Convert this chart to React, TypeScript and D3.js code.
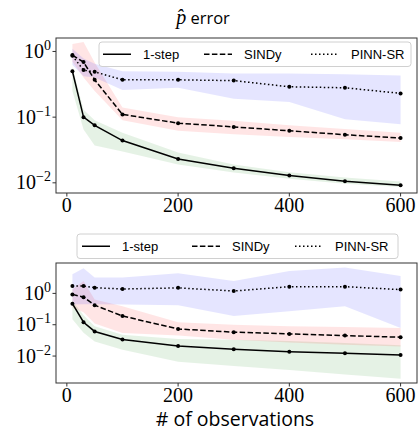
import React from 'react';
import * as d3 from 'd3';

// number of observations
const xs = [10, 30, 50, 100, 200, 300, 400, 500, 600];
const xTicks = [0, 200, 400, 600];
const yTicks = [1e-2, 1e-1, 1e0];
const yTickExp = ['\u22122', '\u22121', '0'];
const seriesNames = ['1-step', 'SINDy', 'PINN-SR'];

// top panel (p-hat error)
const topOneStep = [0.5, 0.1, 0.075, 0.044, 0.023, 0.0166, 0.0129, 0.0106, 0.0092];
const topOneStepHi = [0.58, 0.13, 0.09, 0.058, 0.029, 0.019, 0.0145, 0.012, 0.0105];
const topOneStepLo = [0.25, 0.065, 0.037, 0.03, 0.019, 0.0143, 0.0115, 0.0097, 0.0086];
const topSindy = [0.88, 0.69, 0.37, 0.11, 0.081, 0.071, 0.062, 0.054, 0.048];
const topSindyHi = [1.3, 1.39, 0.68, 0.14, 0.1, 0.088, 0.075, 0.066, 0.058];
const topSindyLo = [0.7, 0.4, 0.25, 0.09, 0.062, 0.055, 0.05, 0.046, 0.042];
const topPinn = [0.86, 0.52, 0.49, 0.37, 0.37, 0.36, 0.29, 0.28, 0.23];
const topPinnHi = [1.1, 0.78, 0.65, 0.5, 0.49, 0.46, 0.46, 0.45, 0.43];
const topPinnLo = [0.62, 0.42, 0.4, 0.26, 0.28, 0.19, 0.17, 0.093, 0.078];

// bottom panel
const botOneStep = [0.47, 0.12, 0.061, 0.034, 0.021, 0.0165, 0.0138, 0.0122, 0.0108];
const botOneStepHi = [0.58, 0.2, 0.089, 0.048, 0.035, 0.033, 0.03, 0.026, 0.022];
const botOneStepLo = [0.15, 0.055, 0.029, 0.016, 0.0066, 0.0048, 0.0036, 0.0026, 0.0019];
const botSindy = [0.93, 0.76, 0.42, 0.19, 0.073, 0.058, 0.051, 0.045, 0.04];
const botSindyHi = [1.35, 2.5, 0.64, 0.39, 0.12, 0.1, 0.09, 0.085, 0.078];
const botSindyLo = [0.35, 0.25, 0.11, 0.054, 0.045, 0.033, 0.027, 0.023, 0.02];
const botPinn = [1.72, 1.72, 1.52, 1.38, 1.5, 1.19, 1.64, 1.64, 1.32];
const botPinnHi = [4.1, 6.4, 3.2, 3.2, 4.4, 2.5, 5.2, 6.7, 3.6];
const botPinnLo = [0.44, 0.45, 0.45, 0.44, 0.42, 0.19, 0.27, 0.39, 0.078];

const fills = ['green', 'red', 'blue'];
const dashes = ['none', '5.5,2.4', '1.5,2.5'];

const serif = '"Liberation Serif", "DejaVu Serif", serif';
const sans = '"Liberation Sans", Arial, sans-serif';
const labelFont = '"Open Sans", "DejaVu Sans", sans-serif';

const left = 56;
const right = 417;

const x = d3.scaleLinear().domain([-19.5, 629.5]).range([left, right]);

function Legend({ x0, y0, w, items }: { x0: number; y0: number; w: number; items: number[] }) {
  const h = 24.5;
  const cy = y0 + h / 2;
  return (
    <g>
      <rect x={x0} y={y0} width={w} height={h} rx={3} fill="white" fillOpacity={0.8} stroke="#d0d0d0" strokeWidth={1} />
      {seriesNames.map((name, i) => {
        const sx = items[i];
        return (
          <g key={name}>
            <line x1={sx} x2={sx + 28} y1={cy} y2={cy} stroke="black" strokeWidth={1.5} strokeDasharray={dashes[i]} />
            <text x={sx + 40} y={cy + 4.5} fontFamily={sans} fontSize={13}>{name}</text>
          </g>
        );
      })}
    </g>
  );
}

function Panel({ top, bottom, yDomain, lines, his, los }: {
  top: number; bottom: number; yDomain: [number, number];
  lines: number[][]; his: number[][]; los: number[][];
}) {
  const y = d3.scaleLog().domain(yDomain).range([bottom, top]);
  const area = (hi: number[], lo: number[]) =>
    d3.area<number>().x((d) => x(d)).y0((d, i) => y(lo[i])).y1((d, i) => y(hi[i]))(xs);
  const line = (v: number[]) => d3.line<number>().x((d) => x(d)).y((d, i) => y(v[i]))(xs);
  const clipId = 'clip' + top;
  return (
    <g>
      <defs>
        <clipPath id={clipId}>
          <rect x={left} y={top} width={right - left} height={bottom - top} />
        </clipPath>
      </defs>
      <g clipPath={`url(#${clipId})`}>
        {lines.map((v, i) => (
          <path key={'a' + i} d={area(his[i], los[i]) || ''} fill={fills[i]} fillOpacity={0.1} stroke="none" />
        ))}
        {lines.map((v, i) => (
          <g key={'l' + i}>
            <path d={line(v) || ''} fill="none" stroke="black" strokeWidth={1.5} strokeDasharray={dashes[i]} />
            {xs.map((d, j) => (
              <circle key={j} cx={x(d)} cy={y(v[j])} r={2} fill="black" />
            ))}
          </g>
        ))}
      </g>
      <rect x={left} y={top} width={right - left} height={bottom - top} fill="none" stroke="#333" strokeWidth={1} />
      {yTicks.map((t, i) => (
        <g key={t}>
          <line x1={left - 3.5} x2={left} y1={y(t)} y2={y(t)} stroke="#333" strokeWidth={1} />
          <text x={left - 5} y={y(t) + 6.5} textAnchor="end" fontFamily={serif} fontSize={20}>
            10<tspan fontSize={14} dy={-8}>{yTickExp[i]}</tspan>
          </text>
        </g>
      ))}
      {xTicks.map((t) => (
        <g key={t}>
          <line x1={x(t)} x2={x(t)} y1={bottom} y2={bottom + 3.5} stroke="#333" strokeWidth={1} />
          <text x={x(t)} y={bottom + 19} textAnchor="middle" fontFamily={serif} fontSize={20}>{t}</text>
        </g>
      ))}
    </g>
  );
}

export default function App() {
  return (
    <svg width={418} height={431} style={{ position: 'absolute', left: 0, top: 0, background: 'white' }}>
      <text x={203} y={24} textAnchor="middle" fontFamily={labelFont} fontSize={16.5}>
        <tspan fontFamily={serif} fontStyle="italic" fontSize={20}>p̂</tspan> error
      </text>
      <Panel
        top={38}
        bottom={193}
        yDomain={[Math.pow(10, -2.155), Math.pow(10, 0.205)]}
        lines={[topOneStep, topSindy, topPinn]}
        his={[topOneStepHi, topSindyHi, topPinnHi]}
        los={[topOneStepLo, topSindyLo, topPinnLo]}
      />
      <Legend x0={99} y0={42} w={312} items={[103, 204, 311]} />
      <Panel
        top={263}
        bottom={383}
        yDomain={[Math.pow(10, -2.86), Math.pow(10, 0.97)]}
        lines={[botOneStep, botSindy, botPinn]}
        his={[botOneStepHi, botSindyHi, botPinnHi]}
        los={[botOneStepLo, botSindyLo, botPinnLo]}
      />
      <Legend x0={77} y0={234} w={321} items={[82, 192, 295]} />
      <text x={235} y={426} textAnchor="middle" fontFamily={labelFont} fontSize={19.5}># of observations</text>
    </svg>
  );
}
